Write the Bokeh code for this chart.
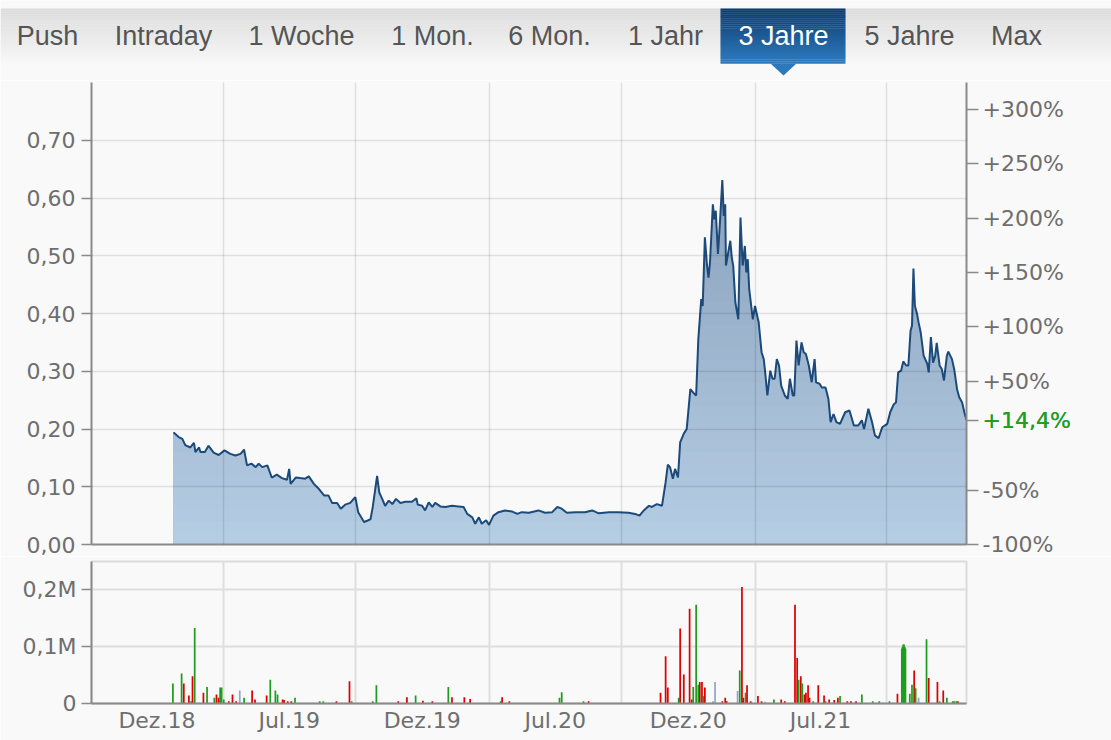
import numpy as np
import pandas as pd
from bokeh.plotting import figure
from bokeh.models import (Range1d, LinearAxis, FixedTicker, Grid,
                          CustomJSTickFormatter, CustomJS)
from bokeh.layouts import column
from bokeh.document import Document
from bokeh.events import DocumentReady
from bokeh.embed import file_html
from bokeh.resources import INLINE
from bokeh.core.properties import value

# ---------------- data ----------------
tabs = ["Push", "Intraday", "1 Woche", "1 Mon.", "6 Mon.", "1 Jahr", "3 Jahre", "5 Jahre", "Max"]
active_tab = "3 Jahre"

START = "2018-07-03"          # left edge of the time axis
END_DAY = 1204                # right edge (days after START)

# closing prices (EUR), day = days after START
price_day = [113, 120, 125, 129, 136, 141, 143, 148, 150, 156,
             161, 164, 168, 175, 183, 191, 198, 205, 210, 214,
             220, 226, 230, 235, 242, 248, 255, 262, 269, 272,
             274, 281, 287, 294, 299, 306, 313, 320, 326, 331,
             338, 343, 349, 356, 363, 367, 375, 381, 384, 387,
             393, 396, 400, 404, 409, 414, 419, 425, 432, 441,
             447, 449, 455, 459, 464, 469, 473, 480, 487, 496,
             505, 512, 517, 524, 528, 533, 537, 543, 547, 553,
             560, 569, 579, 586, 592, 602, 615, 624, 634, 641,
             647, 654, 666, 679, 689, 698, 712, 725, 739, 748,
             754, 760, 767, 771, 778, 785, 790, 793, 796, 800,
             803, 807, 810, 815, 819, 824, 828, 832, 835, 839,
             841, 844, 847, 849, 851, 855, 857, 859, 862, 865,
             868, 870, 872, 873, 877, 879, 881, 883, 886, 890,
             893, 896, 899, 901, 903, 905, 910, 913, 918, 922,
             925, 927, 930, 934, 937, 940, 943, 946, 949, 954,
             958, 961, 965, 967, 970, 973, 977, 980, 983, 987,
             991, 995, 997, 1002, 1005, 1010, 1014, 1017, 1021, 1025,
             1030, 1037, 1043, 1049, 1055, 1060, 1063, 1069, 1074, 1078,
             1083, 1088, 1095, 1099, 1104, 1107, 1110, 1114, 1117, 1121,
             1124, 1127, 1129, 1131, 1133, 1136, 1138, 1141, 1145, 1150,
             1152, 1155, 1158, 1161, 1163, 1167, 1170, 1173, 1177, 1179,
             1184, 1187, 1191, 1194, 1198, 1201, 1204]
price = [0.194, 0.186, 0.183, 0.172, 0.168, 0.176, 0.160, 0.168, 0.160, 0.160,
         0.171, 0.166, 0.159, 0.155, 0.163, 0.157, 0.154, 0.157, 0.164, 0.137,
         0.140, 0.134, 0.140, 0.134, 0.137, 0.116, 0.121, 0.115, 0.112, 0.131,
         0.105, 0.116, 0.115, 0.114, 0.118, 0.105, 0.096, 0.085, 0.085, 0.072,
         0.072, 0.062, 0.069, 0.072, 0.082, 0.056, 0.039, 0.042, 0.044, 0.065,
         0.119, 0.090, 0.079, 0.067, 0.076, 0.070, 0.079, 0.072, 0.074, 0.074,
         0.080, 0.069, 0.067, 0.059, 0.073, 0.065, 0.072, 0.066, 0.065, 0.067,
         0.066, 0.065, 0.053, 0.047, 0.036, 0.047, 0.036, 0.042, 0.034, 0.050,
         0.056, 0.059, 0.057, 0.053, 0.056, 0.055, 0.059, 0.055, 0.056, 0.065,
         0.062, 0.055, 0.056, 0.056, 0.059, 0.054, 0.056, 0.056, 0.055, 0.053,
         0.050, 0.059, 0.067, 0.065, 0.070, 0.067, 0.108, 0.138, 0.134, 0.114,
         0.131, 0.116, 0.177, 0.192, 0.200, 0.269, 0.263, 0.258, 0.356, 0.425,
         0.413, 0.532, 0.483, 0.462, 0.488, 0.589, 0.563, 0.578, 0.503, 0.563,
         0.631, 0.569, 0.589, 0.483, 0.512, 0.526, 0.497, 0.483, 0.419, 0.390,
         0.566, 0.483, 0.517, 0.471, 0.494, 0.442, 0.390, 0.413, 0.385, 0.333,
         0.321, 0.298, 0.258, 0.301, 0.287, 0.287, 0.321, 0.310, 0.275, 0.258,
         0.252, 0.287, 0.258, 0.258, 0.353, 0.310, 0.350, 0.333, 0.330, 0.310,
         0.281, 0.321, 0.281, 0.278, 0.272, 0.272, 0.252, 0.212, 0.226, 0.212,
         0.209, 0.229, 0.232, 0.206, 0.206, 0.215, 0.200, 0.235, 0.212, 0.189,
         0.184, 0.203, 0.209, 0.229, 0.243, 0.246, 0.298, 0.301, 0.317, 0.310,
         0.310, 0.370, 0.379, 0.478, 0.413, 0.399, 0.385, 0.367, 0.327, 0.313,
         0.298, 0.359, 0.315, 0.327, 0.349, 0.310, 0.304, 0.284, 0.327, 0.334,
         0.321, 0.304, 0.269, 0.255, 0.246, 0.229, 0.2155]
base_price = 0.1884           # reference price for the % axis

price_ticks = [0.0, 0.1, 0.2, 0.3, 0.4, 0.5, 0.6, 0.7]
pct_ticks = [-100, -50, 50, 100, 150, 200, 250, 300]

grid_dates = ["2019-01-01", "2019-07-01", "2020-01-01", "2020-07-01", "2021-01-01", "2021-07-01"]
label_dates = ["2018-10-01", "2019-04-01", "2019-10-01", "2020-04-01", "2020-10-01", "2021-04-01"]
label_texts = ["Dez.18", "Jul.19", "Dez.19", "Jul.20", "Dez.20", "Jul.21"]

# daily turnover (millions), u = up day, d = down day, n = unchanged
vol_day = [112, 124, 127, 134, 137, 139, 142, 154, 159, 169,
           172, 175, 177, 179, 182, 189, 194, 199, 204, 210,
           221, 225, 241, 246, 253, 256, 263, 265, 270, 275,
           280, 314, 319, 337, 355, 358, 387, 392, 422, 434,
           446, 456, 469, 491, 496, 513, 521, 563, 565, 575,
           644, 647, 677, 684, 783, 790, 793, 808, 810, 815,
           823, 826, 828, 832, 835, 837, 840, 842, 844, 855,
           858, 868, 872, 874, 889, 892, 895, 897, 900, 902,
           907, 917, 922, 927, 939, 949, 954, 968, 971, 973,
           976, 978, 981, 983, 986, 988, 993, 1000, 1008, 1010,
           1015, 1022, 1027, 1030, 1040, 1045, 1052, 1060, 1075, 1084,
           1098, 1109, 1115, 1116, 1117, 1118, 1119, 1120, 1126, 1129,
           1132, 1134, 1138, 1149, 1152, 1164, 1167, 1172, 1177, 1185,
           1187, 1190, 1192]
vol = [0.035, 0.053, 0.035, 0.014, 0.004, 0.048, 0.133, 0.019, 0.029, 0.010,
       0.016, 0.010, 0.028, 0.028, 0.007, 0.004, 0.016, 0.004, 0.023, 0.010,
       0.023, 0.007, 0.014, 0.042, 0.023, 0.016, 0.007, 0.006, 0.004, 0.004,
       0.010, 0.004, 0.004, 0.004, 0.039, 0.004, 0.004, 0.032, 0.004, 0.011,
       0.014, 0.005, 0.004, 0.029, 0.011, 0.011, 0.008, 0.004, 0.011, 0.004,
       0.010, 0.020, 0.004, 0.004, 0.019, 0.083, 0.028, 0.010, 0.132, 0.051,
       0.167, 0.007, 0.029, 0.174, 0.033, 0.038, 0.038, 0.013, 0.028, 0.004,
       0.038, 0.004, 0.010, 0.004, 0.022, 0.058, 0.205, 0.010, 0.019, 0.032,
       0.004, 0.013, 0.004, 0.003, 0.007, 0.007, 0.004, 0.174, 0.080, 0.042,
       0.048, 0.035, 0.016, 0.019, 0.032, 0.010, 0.004, 0.032, 0.014, 0.004,
       0.007, 0.006, 0.010, 0.013, 0.004, 0.004, 0.004, 0.016, 0.004, 0.004,
       0.004, 0.017, 0.097, 0.100, 0.104, 0.104, 0.100, 0.097, 0.017, 0.033,
       0.058, 0.027, 0.010, 0.113, 0.045, 0.038, 0.004, 0.023, 0.010, 0.004,
       0.004, 0.004, 0.004]
vol_dir = ["u", "u", "d", "d", "u", "d", "u", "d", "u", "u",
           "d", "d", "u", "u", "u", "d", "d", "d", "n", "u",
           "d", "d", "d", "u", "u", "u", "d", "d", "d", "d",
           "u", "u", "u", "d", "d", "u", "u", "u", "d", "d",
           "u", "d", "d", "u", "d", "d", "d", "u", "d", "d",
           "u", "u", "u", "d", "d", "d", "d", "u", "d", "d",
           "d", "d", "u", "u", "u", "d", "d", "u", "d", "n",
           "n", "d", "d", "d", "n", "u", "d", "d", "u", "d",
           "d", "d", "d", "n", "u", "d", "d", "d", "d", "u",
           "d", "u", "d", "d", "d", "d", "u", "d", "d", "u",
           "d", "d", "d", "u", "d", "d", "d", "u", "u", "u",
           "u", "d", "u", "u", "u", "u", "u", "u", "u", "u",
           "d", "u", "n", "u", "d", "d", "u", "d", "u", "u",
           "u", "u", "d"]

# ---------------- helpers / styles ----------------
DAY = 86400000
start_ms = pd.Timestamp(START).value // 10**6
x_price = start_ms + np.array(price_day, dtype=float) * DAY
x_vol = start_ms + np.array(vol_day, dtype=float) * DAY
grid_ms = [pd.Timestamp(d).value // 10**6 for d in grid_dates]
label_ms = [pd.Timestamp(d).value // 10**6 for d in label_dates]
y_price = np.array(price)

BG = "#f9f9f9"
AX = "#8a8a8a"
TXT = "#6e6e6e"
GREEN = "#1f9e1f"
FONT = "DejaVu Sans"
FS = "22px"
W = 1111
BL, BR = 91, 145   # left / right borders of the chart frames

# ---------------- tab bar ----------------
tf = figure(width=W, height=80, x_range=Range1d(0, W), y_range=Range1d(80, 0),
            x_axis_type=None, y_axis_type=None, output_backend="svg",
            toolbar_location=None, min_border=0, outline_line_color=None,
            background_fill_color=BG, border_fill_color=BG)
if "frame_align" in tf.properties():
    tf.frame_align = False
n_strip = 28
bar_top, bar_bot = 8.0, 63.0
sh = (bar_bot - bar_top) / n_strip
for i in range(n_strip):
    t = i / (n_strip - 1)
    g = int(round(220 + (247 - 220) * t))
    tf.quad(left=0, right=W, top=bar_top + i * sh, bottom=bar_top + (i + 1) * sh + 0.3,
            fill_color=(g, g, g), line_color=None)
tab_cx = [47, 163, 301, 432, 549, 665, 783, 909, 1016]
ai = tabs.index(active_tab)
for i in range(n_strip):
    t = i / (n_strip - 1)
    c = (int(13 + (46 - 13) * t), int(59 + (123 - 59) * t), int(109 + (190 - 109) * t))
    tf.quad(left=tab_cx[ai] - 63, right=tab_cx[ai] + 62, top=bar_top + i * sh,
            bottom=bar_top + (i + 1) * sh + 0.3, fill_color=c, line_color=None)
tf.patch(x=[tab_cx[ai] - 13, tab_cx[ai] + 13, tab_cx[ai]], y=[bar_bot, bar_bot, 75],
         fill_color="#2c78ba", line_color=None)
tf.text(x=tab_cx, y=[35] * len(tabs), text=tabs, text_align="center", text_baseline="middle",
        text_font=value("Liberation Sans"), text_font_size="27px",
        text_color=["#ffffff" if t == active_tab else "#555555" for t in tabs])

# ---------------- price chart ----------------
x_range = Range1d(start_ms, start_ms + END_DAY * DAY)
p = figure(width=W, height=476, x_range=x_range, y_range=Range1d(0, 0.80),
           x_axis_type=None, output_backend="svg", toolbar_location=None,
           min_border_left=BL, min_border_right=BR, min_border_top=2, min_border_bottom=12,
           outline_line_color=None, background_fill_color=BG, border_fill_color=BG)

# gradient area (stacked bands, dark at top, light at bottom)
c_lo = np.array([182, 206, 228])
c_hi = np.array([126, 149, 178])
levels = np.linspace(0, 0.80, 41)
for k in range(40, 0, -1):
    t = (levels[k] - 0.01) / 0.80
    col = tuple(int(c) for c in np.round(c_lo + (c_hi - c_lo) * t))
    p.varea(x=x_price, y1=0, y2=np.minimum(y_price, levels[k]), fill_color=col)
p.line(x=x_price, y=y_price, line_color="#1c4a7a", line_width=2)

p.ygrid.ticker = FixedTicker(ticks=price_ticks)
p.ygrid.grid_line_color = "#000000"
p.ygrid.grid_line_alpha = 0.10
p.ygrid.grid_line_width = 1.5
p.ygrid.level = "overlay"
p.add_layout(Grid(dimension=0, ticker=FixedTicker(ticks=grid_ms), grid_line_color="#000000",
                  grid_line_alpha=0.10, grid_line_width=1.5, level="overlay"))

ya = p.yaxis[0]
ya.ticker = FixedTicker(ticks=price_ticks)
ya.formatter = CustomJSTickFormatter(code="return tick.toFixed(2).replace('.', ',');")

cur_pct = (price[-1] / base_price - 1) * 100
pct_txt = ("+" if cur_pct >= 0 else "") + f"{cur_pct:.1f}".replace(".", ",") + "%"
p.extra_y_ranges = {"pct": Range1d(-100, (0.80 / base_price - 1) * 100)}
ra = LinearAxis(y_range_name="pct", ticker=FixedTicker(ticks=pct_ticks + [cur_pct]),
                formatter=CustomJSTickFormatter(args=dict(cur=cur_pct, cur_txt=pct_txt), code="""
if (Math.abs(tick - cur) < 1e-6) { return cur_txt; }
return (tick > 0 ? '+' : '') + tick.toFixed(0) + '%';"""))
p.add_layout(ra, "right")
bottom = LinearAxis(ticker=FixedTicker(ticks=[]), major_tick_out=0, major_tick_in=0,
                    minor_tick_out=0, major_label_text_font_size="0px", major_label_standoff=0)
p.add_layout(bottom, "below")

for a, tick_out, stand in ((ya, 10, 6), (ra, 12, 4), (bottom, 0, 0)):
    a.axis_line_color = AX
    a.axis_line_width = 2
    a.major_tick_line_color = AX
    a.major_tick_line_width = 1.5
    a.major_tick_out = tick_out
    a.major_tick_in = 0
    a.minor_tick_line_color = None
    a.major_label_standoff = stand
    a.major_label_text_font = FONT
    a.major_label_text_color = TXT
    if a is not bottom:
        a.major_label_text_font_size = FS

# ---------------- volume chart ----------------
v = figure(width=W, height=184, x_range=x_range, y_range=Range1d(0, 0.25),
           x_axis_type=None, output_backend="svg", toolbar_location=None,
           min_border_left=BL, min_border_right=BR, min_border_top=5, min_border_bottom=37,
           outline_line_color="#dcdcdc", outline_line_width=2,
           background_fill_color=BG, border_fill_color=BG)
v.ygrid.ticker = FixedTicker(ticks=[0.1, 0.2])
v.ygrid.grid_line_color = "#dedede"
v.ygrid.grid_line_width = 2
v.add_layout(Grid(dimension=0, ticker=FixedTicker(ticks=grid_ms), grid_line_color="#dedede",
                  grid_line_width=2))
dir_color = {"u": "#1e9e1e", "d": "#e00000", "n": "#8fa9cc"}
v.vbar(x=x_vol, top=vol, width=2.4 * DAY, bottom=0,
       fill_color=[dir_color[d] for d in vol_dir], line_color=None)

vy = v.yaxis[0]
vy.ticker = FixedTicker(ticks=[0.0, 0.1, 0.2])
vy.formatter = CustomJSTickFormatter(
    code="return tick == 0 ? '0' : tick.toFixed(1).replace('.', ',') + 'M';")
vx = LinearAxis(ticker=FixedTicker(ticks=label_ms),
                formatter=CustomJSTickFormatter(args=dict(tvals=label_ms, tlabels=label_texts), code="""
const i = tvals.indexOf(tick); return i >= 0 ? tlabels[i] : '';"""))
v.add_layout(vx, "below")
for a, tick_out, stand in ((vy, 10, 5), (vx, 0, 4)):
    a.axis_line_color = AX
    a.axis_line_width = 2
    a.major_tick_line_color = AX
    a.major_tick_line_width = 1.5
    a.major_tick_out = tick_out
    a.major_tick_in = 0
    a.minor_tick_line_color = None
    a.major_label_standoff = stand
    a.major_label_text_font = FONT
    a.major_label_text_color = TXT
    a.major_label_text_font_size = FS

layout = column(tf, p, v, spacing=0)

# colour the current-performance label of the % axis green (as in the original)
doc = Document()
doc.add_root(layout)
doc.js_on_event(DocumentReady, CustomJS(args=dict(txt=pct_txt, col=GREEN), code="""
function paint(root) {
  for (const el of root.querySelectorAll('*')) {
    if (el.shadowRoot) { paint(el.shadowRoot); }
    if (el.tagName && el.tagName.toLowerCase() === 'text' && el.textContent === txt) {
      el.setAttribute('fill', col); el.style.fill = col;
    }
  }
}
paint(document);
setInterval(() => paint(document), 50);
"""))

open("out.html", "w").write(file_html(layout, INLINE))
